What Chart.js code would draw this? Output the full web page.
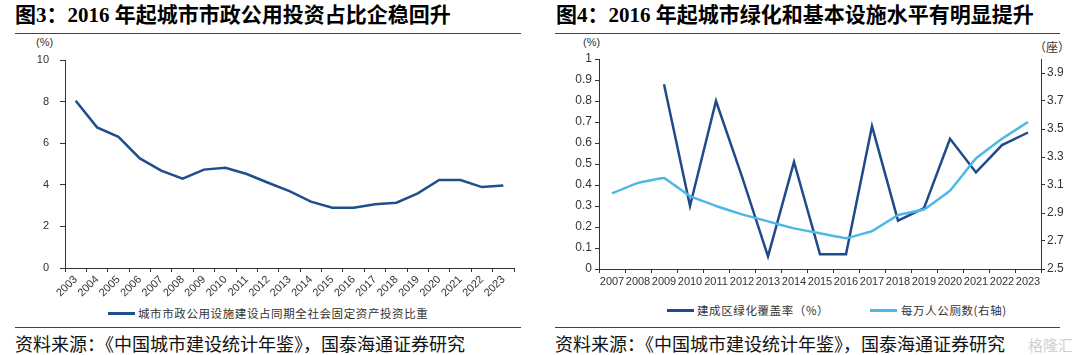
<!DOCTYPE html>
<html>
<head>
<meta charset="utf-8">
<script src="https://cdn.jsdelivr.net/npm/chart.js@4/dist/chart.umd.min.js"></script>
<style>
  html, body { margin: 0; padding: 0; background: #fff; }
  body { width: 1080px; height: 355px; position: relative; overflow: hidden; font-family: "Noto Sans CJK SC", sans-serif; }
  .abs { position: absolute; white-space: nowrap; }
  .title { font-family: "Liberation Serif", "Noto Sans CJK SC", serif; font-weight: 700; font-size: 21px; line-height: 26px; color: #000; }
  .hr { position: absolute; height: 1px; background: #444; }
  .src { font-family: "Noto Sans CJK SC", sans-serif; font-size: 18px; line-height: 22px; color: #111; }
  .u { border-bottom: 1px solid #5f7fbf; }
  .unit { font-family: "Liberation Sans", "Noto Sans CJK SC", sans-serif; font-size: 11px; color: #333; }
  .leg { font-family: "Noto Sans CJK SC", sans-serif; font-size: 11.5px; color: #333; line-height: 14px; letter-spacing: 0.6px; }
  .legline { position: absolute; height: 3px; }
  canvas { position: absolute; top: 0; }
</style>
</head>
<body>
<div class="abs title" style="left:15px; top:2px;">图3：2016 年起城市市政公用投资占比企稳回升</div>
<div class="hr" style="left:15px; top:33px; width:506px;"></div>
<div class="abs title" style="left:556px; top:2px;">图4：2016 年起城市绿化和基本设施水平有明显提升</div>
<div class="hr" style="left:555px; top:33px; width:505px;"></div>

<div class="abs unit" style="left:36px; top:36px;">(%)</div>
<div class="abs unit" style="left:583px; top:36px;">(%)</div>
<div class="abs unit" style="left:1034px; top:38px; font-size:12px;">（座）</div>

<canvas id="c1" width="540" height="300" style="left:0px;"></canvas>
<canvas id="c2" width="540" height="300" style="left:540px;"></canvas>

<div class="legline" style="left:108px; top:312px; width:27px; background:#1F4E8C;"></div>
<div class="abs leg" style="left:138px; top:306px;">城市市政公用设施建设占同期全社会固定资产投资比重</div>

<div class="legline" style="left:667px; top:309px; width:27px; background:#1F4A8C;"></div>
<div class="abs leg" style="left:697px; top:303px;">建成区绿化覆盖率（%）</div>
<div class="legline" style="left:870px; top:309px; width:27px; background:#4DB8E8;"></div>
<div class="abs leg" style="left:901px; top:303px;">每万人公厕数(右轴)</div>

<div class="hr" style="left:15px; top:327px; width:506px;"></div>
<div class="hr" style="left:555px; top:327px; width:505px;"></div>
<div class="abs src" style="left:15px; top:332px;">资料来源：《中国城市建设统计年鉴》，<span class="u">国泰海通</span>证券研究</div>
<div class="abs src" style="left:555px; top:332px;">资料来源：《中国城市建设统计年鉴》，<span class="u">国泰海通</span>证券研究</div>
<div class="abs" style="left:1028px; top:334px; font-size:15px; color:#d0d0d0; font-family:'Noto Sans CJK SC';">格隆汇</div>

<script>
// ---- Data ----
const years1 = ['2003','2004','2005','2006','2007','2008','2009','2010','2011','2012','2013','2014','2015','2016','2017','2018','2019','2020','2021','2022','2023'];
const municipalShare = [8.04, 6.76, 6.31, 5.27, 4.68, 4.29, 4.73, 4.82, 4.52, 4.10, 3.70, 3.19, 2.90, 2.90, 3.06, 3.14, 3.59, 4.23, 4.23, 3.89, 3.97];

const years2 = ['2007','2008','2009','2010','2011','2012','2013','2014','2015','2016','2017','2018','2019','2020','2021','2022','2023'];
const greenCoverage = [null, null, 0.88, 0.30, 0.80, 0.44, 0.06, 0.51, 0.07, 0.07, 0.68, 0.23, 0.29, 0.62, 0.46, 0.59, 0.65];
const toiletsPer10k = [3.04, 3.115, 3.15, 3.02, 2.95, 2.89, 2.84, 2.79, 2.755, 2.72, 2.77, 2.885, 2.925, 3.06, 3.29, 3.43, 3.55];

const leftTicks2 = [0, 0.1, 0.2, 0.3, 0.4, 0.5, 0.6, 0.7, 0.8, 0.9, 1];
const rightTicks2 = [2.5, 2.7, 2.9, 3.1, 3.3, 3.5, 3.7, 3.9];

// ---- Styles ----
const axisColor = '#333';
const tickFont = { family: 'Liberation Sans, Arial, sans-serif', size: 11 };
Chart.defaults.devicePixelRatio = 1;
Chart.defaults.color = '#333';

new Chart(document.getElementById('c1'), {
  type: 'line',
  data: {
    labels: years1,
    datasets: [{
      label: '城市市政公用设施建设占同期全社会固定资产投资比重',
      data: municipalShare,
      borderColor: '#1F4E8C',
      borderWidth: 2.5,
      pointRadius: 0,
      tension: 0,
      fill: false
    }]
  },
  options: {
    responsive: false,
    animation: false,
    layout: { padding: { top: 60, right: 26, left: 0, bottom: 0 } },
    plugins: { legend: { display: false }, tooltip: { enabled: false } },
    scales: {
      x: {
        type: 'category',
        offset: true,
        afterFit: s => { s.height = 32; },
        border: { display: true, color: axisColor, width: 1 },
        grid: { offset: true, drawOnChartArea: false, drawTicks: true, tickLength: 4, color: axisColor },
        ticks: { autoSkip: false, maxRotation: 45, minRotation: 45, font: tickFont, color: '#333', padding: 1 }
      },
      y: {
        min: 0, max: 10,
        afterFit: s => { s.width = 65; },
        border: { display: true, color: axisColor, width: 1 },
        grid: { drawOnChartArea: false, drawTicks: true, tickLength: 5, color: axisColor },
        ticks: { stepSize: 2, font: tickFont, color: '#333', padding: 11 }
      }
    }
  }
});

new Chart(document.getElementById('c2'), {
  type: 'line',
  data: {
    labels: years2,
    datasets: [{
      label: '建成区绿化覆盖率（%）',
      data: greenCoverage,
      yAxisID: 'y',
      borderColor: '#1F4A8C',
      borderWidth: 2.5,
      pointRadius: 0,
      tension: 0,
      order: 1,
      fill: false
    }, {
      label: '每万人公厕数(右轴)',
      data: toiletsPer10k,
      yAxisID: 'y2',
      borderColor: '#4DB8E8',
      borderWidth: 2.5,
      pointRadius: 0,
      tension: 0.05,
      order: 0,
      fill: false
    }]
  },
  options: {
    responsive: false,
    animation: false,
    spanGaps: false,
    layout: { padding: { top: 59, right: 0, left: 0, bottom: 0 } },
    plugins: { legend: { display: false }, tooltip: { enabled: false } },
    scales: {
      x: {
        type: 'category',
        offset: true,
        afterFit: s => { s.height = 31; },
        border: { display: true, color: axisColor, width: 1 },
        grid: { offset: true, drawOnChartArea: false, drawTicks: true, tickLength: 4, color: axisColor },
        ticks: { autoSkip: false, maxRotation: 0, minRotation: 0, font: tickFont, color: '#333', padding: 2 }
      },
      y: {
        position: 'left',
        min: 0, max: 1,
        afterFit: s => { s.width = 59; },
        afterBuildTicks: s => { s.ticks = leftTicks2.map(v => ({ value: v })); },
        border: { display: true, color: axisColor, width: 1 },
        grid: { drawOnChartArea: false, drawTicks: true, tickLength: 4, color: axisColor },
        ticks: { font: { family: 'Liberation Sans, Arial, sans-serif', size: 12 }, color: '#333', padding: 3,
                 callback: v => (v === 0 || v === 1) ? String(v) : v.toFixed(1) }
      },
      y2: {
        position: 'right',
        min: 2.5, max: 4.0,
        afterFit: s => { s.width = 39; },
        afterBuildTicks: s => { s.ticks = rightTicks2.map(v => ({ value: v })); },
        border: { display: true, color: axisColor, width: 1 },
        grid: { drawOnChartArea: false, drawTicks: true, tickLength: 4, color: axisColor },
        ticks: { font: { family: 'Liberation Sans, Arial, sans-serif', size: 12 }, color: '#333', padding: 2,
                 callback: v => v.toFixed(1) }
      }
    }
  }
});
</script>
</body>
</html>
